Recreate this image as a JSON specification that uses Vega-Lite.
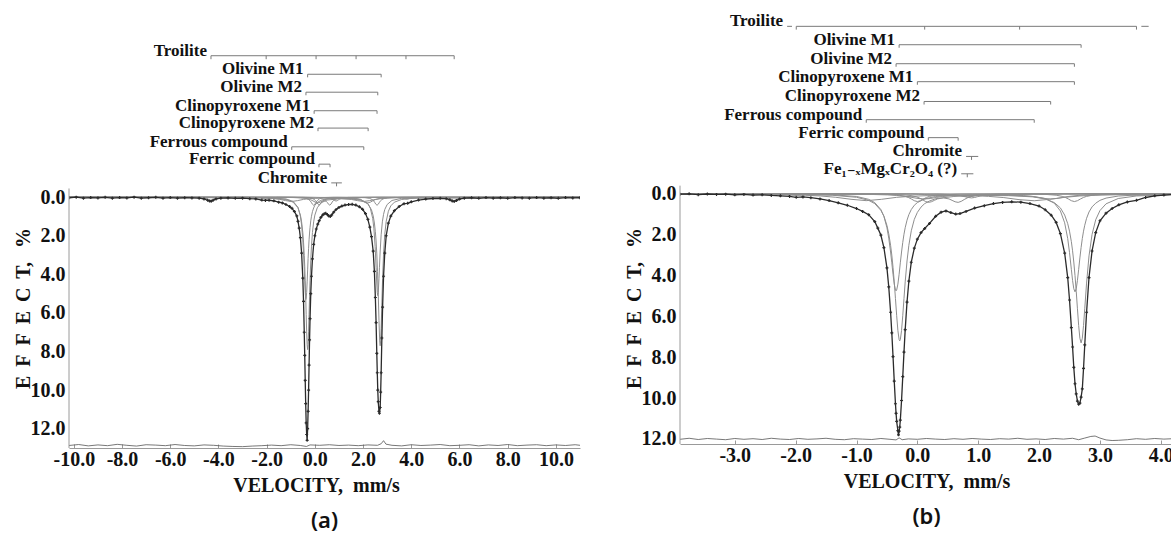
{
  "$schema": "https://vega.github.io/schema/vega-lite/v6.json",
  "background": "white",
  "padding": {"left": 13, "top": 10, "right": 0, "bottom": 0},
  "spacing": 44,
  "config": {
    "view": {"stroke": null},
    "font": "Liberation Serif",
    "axis": {
      "grid": false,
      "labelFont": "Liberation Serif",
      "labelFontSize": 20,
      "labelFontWeight": "bold",
      "labelColor": "#111111",
      "titleFont": "Liberation Serif",
      "titleFontSize": 20,
      "titleFontWeight": "bold",
      "titleColor": "#111111",
      "domainColor": "#9a9a9a",
      "tickColor": "#9a9a9a",
      "labelFlush": false,
      "labelOverlap": false
    }
  },
  "datasets": {
    "a_exp": [
      {"v":-10.2,"e":0.03},{"v":-9.9,"e":0.0},{"v":-9.6,"e":0.05},{"v":-9.3,"e":0.02},{"v":-9.0,"e":0.04},{"v":-8.7,"e":0.01},{"v":-8.4,"e":0.05},{"v":-8.1,"e":0.02},{"v":-7.8,"e":0.04},{"v":-7.5,"e":0.0},{"v":-7.2,"e":0.05},{"v":-6.9,"e":0.03},{"v":-6.6,"e":0.01},{"v":-6.3,"e":0.05},{"v":-6.0,"e":0.02},{"v":-5.7,"e":0.05},{"v":-5.4,"e":0.03},{"v":-5.1,"e":0.04},{"v":-4.8,"e":0.05},{"v":-4.6,"e":0.09},{"v":-4.45,"e":0.16},{"v":-4.37,"e":0.2},{"v":-4.3,"e":0.21},{"v":-4.22,"e":0.16},{"v":-4.1,"e":0.09},{"v":-3.9,"e":0.05},{"v":-3.6,"e":0.04},{"v":-3.3,"e":0.06},{"v":-3.0,"e":0.05},{"v":-2.7,"e":0.08},{"v":-2.45,"e":0.09},{"v":-2.2,"e":0.15},{"v":-2.05,"e":0.17},{"v":-1.9,"e":0.16},{"v":-1.7,"e":0.19},{"v":-1.5,"e":0.26},{"v":-1.35,"e":0.3},{"v":-1.2,"e":0.38},{"v":-1.05,"e":0.48},{"v":-0.95,"e":0.58},{"v":-0.85,"e":0.74},{"v":-0.75,"e":0.97},{"v":-0.7,"e":1.25},{"v":-0.65,"e":1.6},{"v":-0.6,"e":2.1},{"v":-0.55,"e":2.9},{"v":-0.5,"e":4.2},{"v":-0.47,"e":5.4},{"v":-0.44,"e":7.0},{"v":-0.42,"e":8.2},{"v":-0.4,"e":9.5},{"v":-0.38,"e":10.7},{"v":-0.36,"e":11.7},{"v":-0.34,"e":12.3},{"v":-0.32,"e":12.6},{"v":-0.3,"e":12.0},{"v":-0.28,"e":11.1},{"v":-0.26,"e":10.0},{"v":-0.24,"e":8.7},{"v":-0.22,"e":7.4},{"v":-0.2,"e":6.3},{"v":-0.17,"e":5.0},{"v":-0.14,"e":4.1},{"v":-0.1,"e":3.2},{"v":-0.05,"e":2.45},{"v":0.0,"e":2.0},{"v":0.06,"e":1.65},{"v":0.12,"e":1.4},{"v":0.18,"e":1.22},{"v":0.25,"e":1.05},{"v":0.32,"e":0.93},{"v":0.39,"e":0.86},{"v":0.45,"e":0.84},{"v":0.52,"e":0.9},{"v":0.58,"e":0.98},{"v":0.64,"e":1.0},{"v":0.7,"e":0.92},{"v":0.78,"e":0.78},{"v":0.88,"e":0.64},{"v":1.0,"e":0.53},{"v":1.12,"e":0.46},{"v":1.25,"e":0.41},{"v":1.4,"e":0.38},{"v":1.55,"e":0.37},{"v":1.7,"e":0.41},{"v":1.85,"e":0.5},{"v":1.98,"e":0.63},{"v":2.1,"e":0.85},{"v":2.2,"e":1.15},{"v":2.28,"e":1.55},{"v":2.35,"e":2.05},{"v":2.42,"e":2.8},{"v":2.47,"e":3.85},{"v":2.51,"e":5.2},{"v":2.54,"e":6.5},{"v":2.57,"e":8.1},{"v":2.59,"e":9.1},{"v":2.61,"e":10.0},{"v":2.63,"e":10.6},{"v":2.66,"e":11.1},{"v":2.68,"e":11.2},{"v":2.71,"e":10.9},{"v":2.73,"e":10.1},{"v":2.75,"e":9.1},{"v":2.78,"e":7.3},{"v":2.81,"e":5.7},{"v":2.85,"e":4.1},{"v":2.9,"e":2.9},{"v":2.96,"e":2.0},{"v":3.05,"e":1.35},{"v":3.15,"e":0.98},{"v":3.3,"e":0.7},{"v":3.5,"e":0.48},{"v":3.7,"e":0.34},{"v":3.85,"e":0.32},{"v":4.0,"e":0.24},{"v":4.3,"e":0.15},{"v":4.6,"e":0.1},{"v":4.9,"e":0.07},{"v":5.2,"e":0.06},{"v":5.45,"e":0.08},{"v":5.6,"e":0.14},{"v":5.7,"e":0.2},{"v":5.78,"e":0.22},{"v":5.88,"e":0.17},{"v":6.0,"e":0.1},{"v":6.2,"e":0.05},{"v":6.5,"e":0.03},{"v":6.8,"e":0.06},{"v":7.1,"e":0.02},{"v":7.4,"e":0.05},{"v":7.7,"e":0.03},{"v":8.0,"e":0.06},{"v":8.3,"e":0.02},{"v":8.6,"e":0.04},{"v":8.9,"e":0.05},{"v":9.2,"e":0.02},{"v":9.5,"e":0.05},{"v":9.8,"e":0.03},{"v":10.1,"e":0.06},{"v":10.4,"e":0.02},{"v":10.7,"e":0.04},{"v":11.0,"e":0.03}
    ],
    "a_res": [
      {"v":-10.2,"e":12.87},{"v":-9.8,"e":12.82},{"v":-9.4,"e":12.89},{"v":-9.0,"e":12.84},{"v":-8.6,"e":12.88},{"v":-8.2,"e":12.81},{"v":-7.8,"e":12.86},{"v":-7.4,"e":12.9},{"v":-7.0,"e":12.83},{"v":-6.6,"e":12.85},{"v":-6.2,"e":12.88},{"v":-5.8,"e":12.82},{"v":-5.4,"e":12.87},{"v":-5.0,"e":12.89},{"v":-4.6,"e":12.84},{"v":-4.2,"e":12.86},{"v":-3.8,"e":12.9},{"v":-3.4,"e":12.92},{"v":-3.0,"e":12.93},{"v":-2.6,"e":12.9},{"v":-2.2,"e":12.88},{"v":-1.8,"e":12.85},{"v":-1.4,"e":12.88},{"v":-1.0,"e":12.83},{"v":-0.6,"e":12.87},{"v":-0.35,"e":12.92},{"v":-0.2,"e":12.84},{"v":0.2,"e":12.86},{"v":0.6,"e":12.83},{"v":1.0,"e":12.87},{"v":1.4,"e":12.85},{"v":1.8,"e":12.88},{"v":2.2,"e":12.84},{"v":2.6,"e":12.86},{"v":2.75,"e":12.78},{"v":2.85,"e":12.62},{"v":2.95,"e":12.8},{"v":3.2,"e":12.86},{"v":3.6,"e":12.89},{"v":4.0,"e":12.83},{"v":4.4,"e":12.87},{"v":4.8,"e":12.85},{"v":5.2,"e":12.82},{"v":5.6,"e":12.88},{"v":6.0,"e":12.86},{"v":6.4,"e":12.83},{"v":6.8,"e":12.89},{"v":7.2,"e":12.84},{"v":7.6,"e":12.87},{"v":8.0,"e":12.82},{"v":8.4,"e":12.88},{"v":8.8,"e":12.85},{"v":9.2,"e":12.83},{"v":9.6,"e":12.88},{"v":10.0,"e":12.84},{"v":10.4,"e":12.87},{"v":10.8,"e":12.83},{"v":11.0,"e":12.86}
    ],
    "a_comp": [
      {"c":"olm1","v":-10.2,"e":0},{"c":"olm1","v":-2.0,"e":0.04},{"c":"olm1","v":-1.2,"e":0.12},{"c":"olm1","v":-0.9,"e":0.26},{"c":"olm1","v":-0.7,"e":0.55},{"c":"olm1","v":-0.6,"e":0.93},{"c":"olm1","v":-0.55,"e":1.28},{"c":"olm1","v":-0.5,"e":1.83},{"c":"olm1","v":-0.47,"e":2.33},{"c":"olm1","v":-0.44,"e":3.02},{"c":"olm1","v":-0.42,"e":3.61},{"c":"olm1","v":-0.4,"e":4.33},{"c":"olm1","v":-0.38,"e":5.17},{"c":"olm1","v":-0.36,"e":6.09},{"c":"olm1","v":-0.34,"e":6.98},{"c":"olm1","v":-0.32,"e":7.65},{"c":"olm1","v":-0.3,"e":7.9},{"c":"olm1","v":-0.28,"e":7.65},{"c":"olm1","v":-0.26,"e":6.98},{"c":"olm1","v":-0.24,"e":6.09},{"c":"olm1","v":-0.22,"e":5.17},{"c":"olm1","v":-0.2,"e":4.33},{"c":"olm1","v":-0.17,"e":3.3},{"c":"olm1","v":-0.14,"e":2.54},{"c":"olm1","v":-0.1,"e":1.83},{"c":"olm1","v":-0.05,"e":1.28},{"c":"olm1","v":0.0,"e":0.93},{"c":"olm1","v":0.1,"e":0.55},{"c":"olm1","v":0.25,"e":0.3},{"c":"olm1","v":0.5,"e":0.15},{"c":"olm1","v":1.0,"e":0.085},{"c":"olm1","v":1.5,"e":0.09},{"c":"olm1","v":1.9,"e":0.16},{"c":"olm1","v":2.2,"e":0.34},{"c":"olm1","v":2.35,"e":0.66},{"c":"olm1","v":2.42,"e":0.97},{"c":"olm1","v":2.47,"e":1.34},{"c":"olm1","v":2.51,"e":1.79},{"c":"olm1","v":2.54,"e":2.27},{"c":"olm1","v":2.57,"e":2.94},{"c":"olm1","v":2.6,"e":3.85},{"c":"olm1","v":2.63,"e":5.04},{"c":"olm1","v":2.66,"e":6.38},{"c":"olm1","v":2.69,"e":7.45},{"c":"olm1","v":2.71,"e":7.7},{"c":"olm1","v":2.73,"e":7.45},{"c":"olm1","v":2.75,"e":6.8},{"c":"olm1","v":2.78,"e":5.48},{"c":"olm1","v":2.81,"e":4.22},{"c":"olm1","v":2.85,"e":2.94},{"c":"olm1","v":2.9,"e":1.93},{"c":"olm1","v":2.96,"e":1.25},{"c":"olm1","v":3.05,"e":0.73},{"c":"olm1","v":3.15,"e":0.45},{"c":"olm1","v":3.3,"e":0.26},{"c":"olm1","v":3.6,"e":0.12},{"c":"olm1","v":4.2,"e":0.04},{"c":"olm1","v":11.0,"e":0},
      {"c":"olm2","v":-10.2,"e":0},{"c":"olm2","v":-2.0,"e":0.024},{"c":"olm2","v":-1.2,"e":0.09},{"c":"olm2","v":-0.9,"e":0.22},{"c":"olm2","v":-0.7,"e":0.53},{"c":"olm2","v":-0.6,"e":0.99},{"c":"olm2","v":-0.55,"e":1.44},{"c":"olm2","v":-0.5,"e":2.21},{"c":"olm2","v":-0.47,"e":2.9},{"c":"olm2","v":-0.44,"e":3.77},{"c":"olm2","v":-0.42,"e":4.39},{"c":"olm2","v":-0.4,"e":4.93},{"c":"olm2","v":-0.38,"e":5.26},{"c":"olm2","v":-0.37,"e":5.3},{"c":"olm2","v":-0.36,"e":5.26},{"c":"olm2","v":-0.34,"e":4.93},{"c":"olm2","v":-0.32,"e":4.39},{"c":"olm2","v":-0.3,"e":3.77},{"c":"olm2","v":-0.28,"e":3.18},{"c":"olm2","v":-0.26,"e":2.65},{"c":"olm2","v":-0.24,"e":2.21},{"c":"olm2","v":-0.22,"e":1.86},{"c":"olm2","v":-0.2,"e":1.57},{"c":"olm2","v":-0.17,"e":1.23},{"c":"olm2","v":-0.14,"e":0.99},{"c":"olm2","v":-0.1,"e":0.75},{"c":"olm2","v":-0.05,"e":0.56},{"c":"olm2","v":0.0,"e":0.42},{"c":"olm2","v":0.1,"e":0.28},{"c":"olm2","v":0.25,"e":0.16},{"c":"olm2","v":0.5,"e":0.08},{"c":"olm2","v":1.0,"e":0.06},{"c":"olm2","v":1.5,"e":0.07},{"c":"olm2","v":1.9,"e":0.12},{"c":"olm2","v":2.2,"e":0.34},{"c":"olm2","v":2.3,"e":0.57},{"c":"olm2","v":2.4,"e":1.1},{"c":"olm2","v":2.45,"e":1.64},{"c":"olm2","v":2.5,"e":2.55},{"c":"olm2","v":2.54,"e":3.63},{"c":"olm2","v":2.57,"e":4.5},{"c":"olm2","v":2.59,"e":4.94},{"c":"olm2","v":2.61,"e":5.1},{"c":"olm2","v":2.63,"e":4.94},{"c":"olm2","v":2.66,"e":4.23},{"c":"olm2","v":2.68,"e":3.63},{"c":"olm2","v":2.71,"e":2.79},{"c":"olm2","v":2.75,"e":1.95},{"c":"olm2","v":2.8,"e":1.28},{"c":"olm2","v":2.85,"e":0.89},{"c":"olm2","v":2.9,"e":0.64},{"c":"olm2","v":3.0,"e":0.38},{"c":"olm2","v":3.2,"e":0.17},{"c":"olm2","v":3.6,"e":0.06},{"c":"olm2","v":11.0,"e":0},
      {"c":"cpx1","v":-10.2,"e":0},{"c":"cpx1","v":-1.5,"e":0.004},{"c":"cpx1","v":-1.05,"e":0.007},{"c":"cpx1","v":-0.85,"e":0.011},{"c":"cpx1","v":-0.55,"e":0.026},{"c":"cpx1","v":-0.45,"e":0.04},{"c":"cpx1","v":-0.35,"e":0.066},{"c":"cpx1","v":-0.25,"e":0.125},{"c":"cpx1","v":-0.2,"e":0.18},{"c":"cpx1","v":-0.15,"e":0.264},{"c":"cpx1","v":-0.1,"e":0.366},{"c":"cpx1","v":-0.05,"e":0.42},{"c":"cpx1","v":0.0,"e":0.366},{"c":"cpx1","v":0.05,"e":0.264},{"c":"cpx1","v":0.1,"e":0.18},{"c":"cpx1","v":0.2,"e":0.079},{"c":"cpx1","v":0.35,"e":0.04},{"c":"cpx1","v":0.6,"e":0.016},{"c":"cpx1","v":1.0,"e":0.008},{"c":"cpx1","v":1.6,"e":0.008},{"c":"cpx1","v":2.08,"e":0.026},{"c":"cpx1","v":2.28,"e":0.066},{"c":"cpx1","v":2.38,"e":0.125},{"c":"cpx1","v":2.43,"e":0.18},{"c":"cpx1","v":2.48,"e":0.264},{"c":"cpx1","v":2.53,"e":0.366},{"c":"cpx1","v":2.58,"e":0.42},{"c":"cpx1","v":2.63,"e":0.366},{"c":"cpx1","v":2.68,"e":0.264},{"c":"cpx1","v":2.73,"e":0.18},{"c":"cpx1","v":2.78,"e":0.125},{"c":"cpx1","v":2.88,"e":0.066},{"c":"cpx1","v":3.08,"e":0.026},{"c":"cpx1","v":3.6,"e":0.007},{"c":"cpx1","v":11.0,"e":0},
      {"c":"cpx2","v":-10.2,"e":0},{"c":"cpx2","v":-1.9,"e":0.005},{"c":"cpx2","v":-1.4,"e":0.01},{"c":"cpx2","v":-0.9,"e":0.02},{"c":"cpx2","v":-0.6,"e":0.04},{"c":"cpx2","v":-0.38,"e":0.06},{"c":"cpx2","v":-0.18,"e":0.13},{"c":"cpx2","v":-0.08,"e":0.19},{"c":"cpx2","v":0.02,"e":0.26},{"c":"cpx2","v":0.12,"e":0.3},{"c":"cpx2","v":0.22,"e":0.26},{"c":"cpx2","v":0.32,"e":0.19},{"c":"cpx2","v":0.42,"e":0.13},{"c":"cpx2","v":0.62,"e":0.07},{"c":"cpx2","v":0.82,"e":0.04},{"c":"cpx2","v":1.12,"e":0.03},{"c":"cpx2","v":1.4,"e":0.04},{"c":"cpx2","v":1.7,"e":0.07},{"c":"cpx2","v":1.9,"e":0.13},{"c":"cpx2","v":2.0,"e":0.19},{"c":"cpx2","v":2.1,"e":0.26},{"c":"cpx2","v":2.2,"e":0.3},{"c":"cpx2","v":2.3,"e":0.26},{"c":"cpx2","v":2.4,"e":0.19},{"c":"cpx2","v":2.5,"e":0.13},{"c":"cpx2","v":2.7,"e":0.06},{"c":"cpx2","v":2.9,"e":0.034},{"c":"cpx2","v":3.2,"e":0.018},{"c":"cpx2","v":3.7,"e":0.008},{"c":"cpx2","v":4.7,"e":0.003},{"c":"cpx2","v":11.0,"e":0},
      {"c":"ferrous","v":-10.2,"e":0},{"c":"ferrous","v":-5.0,"e":0.004},{"c":"ferrous","v":-3.97,"e":0.006},{"c":"ferrous","v":-2.97,"e":0.013},{"c":"ferrous","v":-2.47,"e":0.022},{"c":"ferrous","v":-1.97,"e":0.044},{"c":"ferrous","v":-1.72,"e":0.068},{"c":"ferrous","v":-1.47,"e":0.11},{"c":"ferrous","v":-1.22,"e":0.176},{"c":"ferrous","v":-0.97,"e":0.226},{"c":"ferrous","v":-0.72,"e":0.18},{"c":"ferrous","v":-0.47,"e":0.115},{"c":"ferrous","v":-0.22,"e":0.075},{"c":"ferrous","v":0.03,"e":0.055},{"c":"ferrous","v":0.5,"e":0.045},{"c":"ferrous","v":1.02,"e":0.058},{"c":"ferrous","v":1.52,"e":0.12},{"c":"ferrous","v":1.77,"e":0.18},{"c":"ferrous","v":2.02,"e":0.225},{"c":"ferrous","v":2.27,"e":0.18},{"c":"ferrous","v":2.52,"e":0.115},{"c":"ferrous","v":2.77,"e":0.072},{"c":"ferrous","v":3.02,"e":0.048},{"c":"ferrous","v":3.52,"e":0.024},{"c":"ferrous","v":4.02,"e":0.014},{"c":"ferrous","v":5.0,"e":0.006},{"c":"ferrous","v":11.0,"e":0},
      {"c":"ferric","v":-10.2,"e":0},{"c":"ferric","v":-1.0,"e":0.007},{"c":"ferric","v":-0.43,"e":0.016},{"c":"ferric","v":-0.28,"e":0.029},{"c":"ferric","v":-0.13,"e":0.06},{"c":"ferric","v":-0.03,"e":0.113},{"c":"ferric","v":0.02,"e":0.167},{"c":"ferric","v":0.07,"e":0.247},{"c":"ferric","v":0.12,"e":0.353},{"c":"ferric","v":0.17,"e":0.413},{"c":"ferric","v":0.22,"e":0.373},{"c":"ferric","v":0.27,"e":0.28},{"c":"ferric","v":0.32,"e":0.213},{"c":"ferric","v":0.395,"e":0.178},{"c":"ferric","v":0.47,"e":0.213},{"c":"ferric","v":0.52,"e":0.28},{"c":"ferric","v":0.57,"e":0.373},{"c":"ferric","v":0.62,"e":0.413},{"c":"ferric","v":0.67,"e":0.36},{"c":"ferric","v":0.72,"e":0.253},{"c":"ferric","v":0.77,"e":0.173},{"c":"ferric","v":0.82,"e":0.12},{"c":"ferric","v":0.92,"e":0.067},{"c":"ferric","v":1.07,"e":0.033},{"c":"ferric","v":1.4,"e":0.013},{"c":"ferric","v":2.5,"e":0.003},{"c":"ferric","v":11.0,"e":0},
      {"c":"chromite","v":-10.2,"e":0},{"c":"chromite","v":-1.12,"e":0.001},{"c":"chromite","v":-0.12,"e":0.004},{"c":"chromite","v":0.38,"e":0.017},{"c":"chromite","v":0.58,"e":0.04},{"c":"chromite","v":0.68,"e":0.072},{"c":"chromite","v":0.73,"e":0.1},{"c":"chromite","v":0.78,"e":0.138},{"c":"chromite","v":0.83,"e":0.18},{"c":"chromite","v":0.88,"e":0.2},{"c":"chromite","v":0.93,"e":0.18},{"c":"chromite","v":0.98,"e":0.138},{"c":"chromite","v":1.03,"e":0.1},{"c":"chromite","v":1.08,"e":0.072},{"c":"chromite","v":1.18,"e":0.04},{"c":"chromite","v":1.38,"e":0.017},{"c":"chromite","v":1.88,"e":0.004},{"c":"chromite","v":11.0,"e":0},
      {"c":"troilite","v":-10.2,"e":0},{"c":"troilite","v":-5.2,"e":0.01},{"c":"troilite","v":-4.72,"e":0.024},{"c":"troilite","v":-4.52,"e":0.061},{"c":"troilite","v":-4.42,"e":0.118},{"c":"troilite","v":-4.37,"e":0.153},{"c":"troilite","v":-4.32,"e":0.17},{"c":"troilite","v":-4.27,"e":0.153},{"c":"troilite","v":-4.22,"e":0.118},{"c":"troilite","v":-4.12,"e":0.061},{"c":"troilite","v":-3.92,"e":0.024},{"c":"troilite","v":-3.3,"e":0.008},{"c":"troilite","v":-2.53,"e":0.01},{"c":"troilite","v":-2.23,"e":0.036},{"c":"troilite","v":-2.13,"e":0.069},{"c":"troilite","v":-2.08,"e":0.09},{"c":"troilite","v":-2.03,"e":0.1},{"c":"troilite","v":-1.98,"e":0.09},{"c":"troilite","v":-1.93,"e":0.069},{"c":"troilite","v":-1.83,"e":0.036},{"c":"troilite","v":-1.53,"e":0.01},{"c":"troilite","v":-0.5,"e":0.005},{"c":"troilite","v":-0.16,"e":0.018},{"c":"troilite","v":-0.06,"e":0.035},{"c":"troilite","v":0.04,"e":0.05},{"c":"troilite","v":0.14,"e":0.035},{"c":"troilite","v":0.24,"e":0.018},{"c":"troilite","v":0.8,"e":0.004},{"c":"troilite","v":1.54,"e":0.018},{"c":"troilite","v":1.64,"e":0.035},{"c":"troilite","v":1.74,"e":0.05},{"c":"troilite","v":1.84,"e":0.035},{"c":"troilite","v":1.94,"e":0.018},{"c":"troilite","v":2.8,"e":0.006},{"c":"troilite","v":3.32,"e":0.009},{"c":"troilite","v":3.62,"e":0.036},{"c":"troilite","v":3.72,"e":0.069},{"c":"troilite","v":3.77,"e":0.09},{"c":"troilite","v":3.82,"e":0.1},{"c":"troilite","v":3.87,"e":0.09},{"c":"troilite","v":3.92,"e":0.069},{"c":"troilite","v":4.02,"e":0.036},{"c":"troilite","v":4.32,"e":0.01},{"c":"troilite","v":5.07,"e":0.012},{"c":"troilite","v":5.37,"e":0.024},{"c":"troilite","v":5.57,"e":0.061},{"c":"troilite","v":5.67,"e":0.118},{"c":"troilite","v":5.72,"e":0.153},{"c":"troilite","v":5.77,"e":0.17},{"c":"troilite","v":5.82,"e":0.153},{"c":"troilite","v":5.87,"e":0.118},{"c":"troilite","v":5.97,"e":0.061},{"c":"troilite","v":6.17,"e":0.024},{"c":"troilite","v":6.7,"e":0.008},{"c":"troilite","v":11.0,"e":0}
    ],
    "a_lab": [
      {"lab":"Troilite","v":-4.31,"e":-7.33},
      {"lab":"Olivine M1","v":-0.3,"e":-6.37},
      {"lab":"Olivine M2","v":-0.37,"e":-5.44},
      {"lab":"Clinopyroxene M1","v":-0.03,"e":-4.48},
      {"lab":"Clinopyroxene M2","v":0.13,"e":-3.58},
      {"lab":"Ferrous compound","v":-0.96,"e":-2.61},
      {"lab":"Ferric compound","v":0.17,"e":-1.71},
      {"lab":"Chromite","v":0.68,"e":-0.74}
    ],
    "a_seg": [
      {"v":-4.31,"v2":5.78,"e":-7.33},
      {"v":-0.3,"v2":2.75,"e":-6.37},
      {"v":-0.37,"v2":2.61,"e":-5.44},
      {"v":-0.03,"v2":2.58,"e":-4.48},
      {"v":0.13,"v2":2.21,"e":-3.58},
      {"v":-0.96,"v2":2.03,"e":-2.61},
      {"v":0.17,"v2":0.63,"e":-1.71},
      {"v":0.68,"v2":1.12,"e":-0.74}
    ],
    "a_tk": [
      {"v":-4.31,"e":-7.33,"e2":-7.15},{"v":-2.02,"e":-7.33,"e2":-7.15},{"v":0.05,"e":-7.33,"e2":-7.15},{"v":1.71,"e":-7.33,"e2":-7.15},{"v":3.78,"e":-7.33,"e2":-7.15},{"v":5.78,"e":-7.33,"e2":-7.15},
      {"v":-0.3,"e":-6.37,"e2":-6.21},{"v":2.75,"e":-6.37,"e2":-6.21},
      {"v":-0.37,"e":-5.44,"e2":-5.28},{"v":2.61,"e":-5.44,"e2":-5.28},
      {"v":-0.03,"e":-4.48,"e2":-4.32},{"v":2.58,"e":-4.48,"e2":-4.32},
      {"v":0.13,"e":-3.58,"e2":-3.42},{"v":2.21,"e":-3.58,"e2":-3.42},
      {"v":-0.96,"e":-2.61,"e2":-2.45},{"v":2.03,"e":-2.61,"e2":-2.45},
      {"v":0.17,"e":-1.71,"e2":-1.55},{"v":0.63,"e":-1.71,"e2":-1.55},
      {"v":0.9,"e":-0.74,"e2":-0.56}
    ],
    "b_exp": [
      {"v":-3.9,"e":0.02},{"v":-3.75,"e":0.0},{"v":-3.6,"e":0.04},{"v":-3.45,"e":0.01},{"v":-3.3,"e":0.03},{"v":-3.15,"e":0.02},{"v":-3.0,"e":0.05},{"v":-2.85,"e":0.03},{"v":-2.7,"e":0.06},{"v":-2.55,"e":0.05},{"v":-2.4,"e":0.08},{"v":-2.25,"e":0.1},{"v":-2.1,"e":0.13},{"v":-1.99,"e":0.17},{"v":-1.88,"e":0.15},{"v":-1.75,"e":0.19},{"v":-1.6,"e":0.25},{"v":-1.45,"e":0.33},{"v":-1.3,"e":0.44},{"v":-1.15,"e":0.56},{"v":-1.0,"e":0.72},{"v":-0.9,"e":0.86},{"v":-0.8,"e":1.02},{"v":-0.7,"e":1.36},{"v":-0.65,"e":1.68},{"v":-0.6,"e":2.02},{"v":-0.55,"e":2.63},{"v":-0.5,"e":3.63},{"v":-0.47,"e":4.56},{"v":-0.44,"e":5.8},{"v":-0.42,"e":6.81},{"v":-0.4,"e":7.97},{"v":-0.38,"e":9.17},{"v":-0.36,"e":10.28},{"v":-0.35,"e":10.75},{"v":-0.34,"e":11.14},{"v":-0.32,"e":11.6},{"v":-0.31,"e":11.8},{"v":-0.3,"e":11.62},{"v":-0.29,"e":11.42},{"v":-0.28,"e":11.08},{"v":-0.26,"e":10.12},{"v":-0.24,"e":8.95},{"v":-0.22,"e":7.75},{"v":-0.2,"e":6.65},{"v":-0.17,"e":5.3},{"v":-0.14,"e":4.28},{"v":-0.1,"e":3.35},{"v":-0.05,"e":2.66},{"v":0.0,"e":2.22},{"v":0.06,"e":1.9},{"v":0.12,"e":1.7},{"v":0.2,"e":1.45},{"v":0.3,"e":1.1},{"v":0.39,"e":0.9},{"v":0.47,"e":0.84},{"v":0.55,"e":0.92},{"v":0.63,"e":0.99},{"v":0.7,"e":0.97},{"v":0.8,"e":0.86},{"v":0.94,"e":0.7},{"v":1.1,"e":0.58},{"v":1.25,"e":0.48},{"v":1.4,"e":0.42},{"v":1.55,"e":0.39},{"v":1.7,"e":0.41},{"v":1.85,"e":0.48},{"v":2.0,"e":0.6},{"v":2.1,"e":0.78},{"v":2.2,"e":1.05},{"v":2.28,"e":1.4},{"v":2.35,"e":1.95},{"v":2.42,"e":2.9},{"v":2.47,"e":4.1},{"v":2.5,"e":5.2},{"v":2.53,"e":6.55},{"v":2.55,"e":7.5},{"v":2.57,"e":8.5},{"v":2.59,"e":9.3},{"v":2.61,"e":9.8},{"v":2.63,"e":10.15},{"v":2.65,"e":10.3},{"v":2.67,"e":10.25},{"v":2.69,"e":9.95},{"v":2.71,"e":9.55},{"v":2.73,"e":8.55},{"v":2.75,"e":7.4},{"v":2.78,"e":5.8},{"v":2.82,"e":4.1},{"v":2.87,"e":2.8},{"v":2.93,"e":1.9},{"v":3.0,"e":1.32},{"v":3.1,"e":0.95},{"v":3.2,"e":0.72},{"v":3.31,"e":0.54},{"v":3.45,"e":0.4},{"v":3.6,"e":0.32},{"v":3.75,"e":0.18},{"v":3.9,"e":0.1},{"v":4.05,"e":0.06},{"v":4.2,"e":0.04}
    ],
    "b_res": [
      {"v":-3.9,"e":12.02},{"v":-3.75,"e":11.97},{"v":-3.6,"e":12.03},{"v":-3.45,"e":11.98},{"v":-3.3,"e":12.01},{"v":-3.15,"e":12.04},{"v":-3.0,"e":11.98},{"v":-2.85,"e":12.02},{"v":-2.7,"e":11.99},{"v":-2.55,"e":12.03},{"v":-2.4,"e":11.97},{"v":-2.25,"e":12.01},{"v":-2.1,"e":12.03},{"v":-1.95,"e":11.98},{"v":-1.8,"e":12.02},{"v":-1.65,"e":12.0},{"v":-1.5,"e":11.97},{"v":-1.35,"e":12.02},{"v":-1.2,"e":12.04},{"v":-1.05,"e":11.99},{"v":-0.9,"e":12.01},{"v":-0.75,"e":12.03},{"v":-0.6,"e":11.98},{"v":-0.45,"e":12.02},{"v":-0.35,"e":12.05},{"v":-0.3,"e":11.95},{"v":-0.25,"e":12.04},{"v":-0.15,"e":12.0},{"v":0.0,"e":12.02},{"v":0.15,"e":11.98},{"v":0.3,"e":12.01},{"v":0.45,"e":12.03},{"v":0.6,"e":11.99},{"v":0.75,"e":12.02},{"v":0.9,"e":11.98},{"v":1.05,"e":12.01},{"v":1.2,"e":12.03},{"v":1.35,"e":11.99},{"v":1.5,"e":12.01},{"v":1.65,"e":11.97},{"v":1.8,"e":12.02},{"v":1.95,"e":12.0},{"v":2.1,"e":12.03},{"v":2.25,"e":11.98},{"v":2.4,"e":12.01},{"v":2.55,"e":11.97},{"v":2.65,"e":12.04},{"v":2.75,"e":11.96},{"v":2.85,"e":11.88},{"v":2.92,"e":11.86},{"v":3.0,"e":11.96},{"v":3.1,"e":12.05},{"v":3.2,"e":12.08},{"v":3.3,"e":12.07},{"v":3.45,"e":12.04},{"v":3.6,"e":11.99},{"v":3.75,"e":12.02},{"v":3.9,"e":11.98},{"v":4.05,"e":12.01},{"v":4.2,"e":11.99}
    ],
    "b_comp": [
      {"c":"olm2","v":-3.9,"e":0},{"c":"olm2","v":-2.0,"e":0.02},{"c":"olm2","v":-1.4,"e":0.05},{"c":"olm2","v":-1.0,"e":0.13},{"c":"olm2","v":-0.8,"e":0.27},{"c":"olm2","v":-0.7,"e":0.43},{"c":"olm2","v":-0.6,"e":0.77},{"c":"olm2","v":-0.55,"e":1.1},{"c":"olm2","v":-0.5,"e":1.66},{"c":"olm2","v":-0.47,"e":2.17},{"c":"olm2","v":-0.44,"e":2.85},{"c":"olm2","v":-0.42,"e":3.38},{"c":"olm2","v":-0.4,"e":3.94},{"c":"olm2","v":-0.38,"e":4.42},{"c":"olm2","v":-0.36,"e":4.71},{"c":"olm2","v":-0.35,"e":4.75},{"c":"olm2","v":-0.34,"e":4.71},{"c":"olm2","v":-0.32,"e":4.42},{"c":"olm2","v":-0.3,"e":3.94},{"c":"olm2","v":-0.28,"e":3.38},{"c":"olm2","v":-0.26,"e":2.85},{"c":"olm2","v":-0.24,"e":2.38},{"c":"olm2","v":-0.22,"e":1.98},{"c":"olm2","v":-0.2,"e":1.66},{"c":"olm2","v":-0.17,"e":1.29},{"c":"olm2","v":-0.14,"e":1.02},{"c":"olm2","v":-0.1,"e":0.77},{"c":"olm2","v":-0.05,"e":0.56},{"c":"olm2","v":0.0,"e":0.43},{"c":"olm2","v":0.12,"e":0.25},{"c":"olm2","v":0.3,"e":0.13},{"c":"olm2","v":0.6,"e":0.075},{"c":"olm2","v":1.0,"e":0.056},{"c":"olm2","v":1.5,"e":0.07},{"c":"olm2","v":1.9,"e":0.13},{"c":"olm2","v":2.1,"e":0.23},{"c":"olm2","v":2.25,"e":0.46},{"c":"olm2","v":2.35,"e":0.84},{"c":"olm2","v":2.42,"e":1.42},{"c":"olm2","v":2.47,"e":2.19},{"c":"olm2","v":2.5,"e":2.88},{"c":"olm2","v":2.53,"e":3.7},{"c":"olm2","v":2.55,"e":4.24},{"c":"olm2","v":2.57,"e":4.65},{"c":"olm2","v":2.59,"e":4.8},{"c":"olm2","v":2.61,"e":4.65},{"c":"olm2","v":2.63,"e":4.24},{"c":"olm2","v":2.65,"e":3.7},{"c":"olm2","v":2.67,"e":3.14},{"c":"olm2","v":2.69,"e":2.63},{"c":"olm2","v":2.71,"e":2.19},{"c":"olm2","v":2.73,"e":1.83},{"c":"olm2","v":2.75,"e":1.54},{"c":"olm2","v":2.78,"e":1.2},{"c":"olm2","v":2.82,"e":0.89},{"c":"olm2","v":2.87,"e":0.64},{"c":"olm2","v":2.93,"e":0.46},{"c":"olm2","v":3.0,"e":0.32},{"c":"olm2","v":3.1,"e":0.21},{"c":"olm2","v":3.3,"e":0.11},{"c":"olm2","v":3.6,"e":0.056},{"c":"olm2","v":4.2,"e":0.02},
      {"c":"olm1","v":-3.9,"e":0},{"c":"olm1","v":-2.0,"e":0.03},{"c":"olm1","v":-1.4,"e":0.07},{"c":"olm1","v":-1.0,"e":0.17},{"c":"olm1","v":-0.8,"e":0.32},{"c":"olm1","v":-0.7,"e":0.48},{"c":"olm1","v":-0.6,"e":0.81},{"c":"olm1","v":-0.55,"e":1.09},{"c":"olm1","v":-0.5,"e":1.55},{"c":"olm1","v":-0.47,"e":1.96},{"c":"olm1","v":-0.44,"e":2.52},{"c":"olm1","v":-0.42,"e":3.0},{"c":"olm1","v":-0.4,"e":3.6},{"c":"olm1","v":-0.38,"e":4.31},{"c":"olm1","v":-0.36,"e":5.13},{"c":"olm1","v":-0.34,"e":5.97},{"c":"olm1","v":-0.32,"e":6.7},{"c":"olm1","v":-0.3,"e":7.14},{"c":"olm1","v":-0.29,"e":7.2},{"c":"olm1","v":-0.28,"e":7.14},{"c":"olm1","v":-0.26,"e":6.7},{"c":"olm1","v":-0.24,"e":5.97},{"c":"olm1","v":-0.22,"e":5.13},{"c":"olm1","v":-0.2,"e":4.31},{"c":"olm1","v":-0.17,"e":3.29},{"c":"olm1","v":-0.14,"e":2.52},{"c":"olm1","v":-0.1,"e":1.81},{"c":"olm1","v":-0.05,"e":1.25},{"c":"olm1","v":0.0,"e":0.91},{"c":"olm1","v":0.06,"e":0.65},{"c":"olm1","v":0.12,"e":0.48},{"c":"olm1","v":0.2,"e":0.35},{"c":"olm1","v":0.3,"e":0.24},{"c":"olm1","v":0.6,"e":0.13},{"c":"olm1","v":1.0,"e":0.08},{"c":"olm1","v":1.5,"e":0.09},{"c":"olm1","v":1.9,"e":0.15},{"c":"olm1","v":2.1,"e":0.25},{"c":"olm1","v":2.25,"e":0.43},{"c":"olm1","v":2.35,"e":0.69},{"c":"olm1","v":2.42,"e":1.04},{"c":"olm1","v":2.47,"e":1.46},{"c":"olm1","v":2.5,"e":1.83},{"c":"olm1","v":2.53,"e":2.34},{"c":"olm1","v":2.55,"e":2.79},{"c":"olm1","v":2.57,"e":3.34},{"c":"olm1","v":2.59,"e":4.0},{"c":"olm1","v":2.61,"e":4.77},{"c":"olm1","v":2.63,"e":5.63},{"c":"olm1","v":2.65,"e":6.45},{"c":"olm1","v":2.67,"e":7.07},{"c":"olm1","v":2.69,"e":7.3},{"c":"olm1","v":2.71,"e":7.07},{"c":"olm1","v":2.73,"e":6.45},{"c":"olm1","v":2.75,"e":5.63},{"c":"olm1","v":2.78,"e":4.37},{"c":"olm1","v":2.82,"e":3.04},{"c":"olm1","v":2.87,"e":1.99},{"c":"olm1","v":2.93,"e":1.27},{"c":"olm1","v":3.0,"e":0.82},{"c":"olm1","v":3.1,"e":0.49},{"c":"olm1","v":3.3,"e":0.23},{"c":"olm1","v":3.6,"e":0.105},{"c":"olm1","v":4.2,"e":0.04},
      {"c":"cpx1","v":-3.9,"e":0},{"c":"cpx1","v":-1.5,"e":0.005},{"c":"cpx1","v":-1.0,"e":0.008},{"c":"cpx1","v":-0.7,"e":0.014},{"c":"cpx1","v":-0.45,"e":0.034},{"c":"cpx1","v":-0.3,"e":0.068},{"c":"cpx1","v":-0.2,"e":0.125},{"c":"cpx1","v":-0.15,"e":0.177},{"c":"cpx1","v":-0.1,"e":0.252},{"c":"cpx1","v":-0.05,"e":0.337},{"c":"cpx1","v":0.0,"e":0.38},{"c":"cpx1","v":0.05,"e":0.337},{"c":"cpx1","v":0.1,"e":0.252},{"c":"cpx1","v":0.15,"e":0.177},{"c":"cpx1","v":0.2,"e":0.125},{"c":"cpx1","v":0.3,"e":0.068},{"c":"cpx1","v":0.45,"e":0.034},{"c":"cpx1","v":0.7,"e":0.014},{"c":"cpx1","v":1.2,"e":0.007},{"c":"cpx1","v":1.88,"e":0.014},{"c":"cpx1","v":2.13,"e":0.034},{"c":"cpx1","v":2.28,"e":0.068},{"c":"cpx1","v":2.38,"e":0.125},{"c":"cpx1","v":2.43,"e":0.177},{"c":"cpx1","v":2.48,"e":0.252},{"c":"cpx1","v":2.53,"e":0.337},{"c":"cpx1","v":2.58,"e":0.38},{"c":"cpx1","v":2.63,"e":0.337},{"c":"cpx1","v":2.68,"e":0.252},{"c":"cpx1","v":2.73,"e":0.177},{"c":"cpx1","v":2.78,"e":0.125},{"c":"cpx1","v":2.88,"e":0.068},{"c":"cpx1","v":3.03,"e":0.034},{"c":"cpx1","v":3.28,"e":0.014},{"c":"cpx1","v":3.78,"e":0.007},{"c":"cpx1","v":4.2,"e":0.004},
      {"c":"cpx2","v":-3.9,"e":0.002},{"c":"cpx2","v":-2.5,"e":0.005},{"c":"cpx2","v":-1.9,"e":0.008},{"c":"cpx2","v":-1.5,"e":0.012},{"c":"cpx2","v":-1.09,"e":0.018},{"c":"cpx2","v":-0.79,"e":0.028},{"c":"cpx2","v":-0.49,"e":0.053},{"c":"cpx2","v":-0.34,"e":0.08},{"c":"cpx2","v":-0.19,"e":0.13},{"c":"cpx2","v":-0.09,"e":0.177},{"c":"cpx2","v":0.01,"e":0.228},{"c":"cpx2","v":0.11,"e":0.253},{"c":"cpx2","v":0.21,"e":0.23},{"c":"cpx2","v":0.31,"e":0.18},{"c":"cpx2","v":0.41,"e":0.135},{"c":"cpx2","v":0.56,"e":0.085},{"c":"cpx2","v":0.71,"e":0.06},{"c":"cpx2","v":1.01,"e":0.04},{"c":"cpx2","v":1.3,"e":0.04},{"c":"cpx2","v":1.59,"e":0.065},{"c":"cpx2","v":1.74,"e":0.086},{"c":"cpx2","v":1.89,"e":0.13},{"c":"cpx2","v":1.99,"e":0.178},{"c":"cpx2","v":2.09,"e":0.228},{"c":"cpx2","v":2.19,"e":0.253},{"c":"cpx2","v":2.29,"e":0.228},{"c":"cpx2","v":2.39,"e":0.175},{"c":"cpx2","v":2.49,"e":0.127},{"c":"cpx2","v":2.64,"e":0.08},{"c":"cpx2","v":2.79,"e":0.052},{"c":"cpx2","v":3.09,"e":0.027},{"c":"cpx2","v":3.39,"e":0.016},{"c":"cpx2","v":3.79,"e":0.009},{"c":"cpx2","v":4.2,"e":0.006},
      {"c":"ferrous","v":-3.9,"e":0.011},{"c":"ferrous","v":-3.34,"e":0.015},{"c":"ferrous","v":-2.84,"e":0.022},{"c":"ferrous","v":-2.34,"e":0.037},{"c":"ferrous","v":-1.84,"e":0.07},{"c":"ferrous","v":-1.59,"e":0.106},{"c":"ferrous","v":-1.34,"e":0.17},{"c":"ferrous","v":-1.09,"e":0.268},{"c":"ferrous","v":-0.84,"e":0.335},{"c":"ferrous","v":-0.59,"e":0.27},{"c":"ferrous","v":-0.34,"e":0.172},{"c":"ferrous","v":-0.09,"e":0.12},{"c":"ferrous","v":0.16,"e":0.09},{"c":"ferrous","v":0.54,"e":0.078},{"c":"ferrous","v":0.92,"e":0.09},{"c":"ferrous","v":1.17,"e":0.125},{"c":"ferrous","v":1.42,"e":0.185},{"c":"ferrous","v":1.67,"e":0.285},{"c":"ferrous","v":1.92,"e":0.34},{"c":"ferrous","v":2.17,"e":0.27},{"c":"ferrous","v":2.42,"e":0.172},{"c":"ferrous","v":2.67,"e":0.105},{"c":"ferrous","v":2.92,"e":0.072},{"c":"ferrous","v":3.42,"e":0.037},{"c":"ferrous","v":3.92,"e":0.022},{"c":"ferrous","v":4.2,"e":0.018},
      {"c":"ferric","v":-3.9,"e":0},{"c":"ferric","v":-1.5,"e":0.003},{"c":"ferric","v":-0.82,"e":0.011},{"c":"ferric","v":-0.52,"e":0.021},{"c":"ferric","v":-0.27,"e":0.042},{"c":"ferric","v":-0.12,"e":0.08},{"c":"ferric","v":-0.02,"e":0.143},{"c":"ferric","v":0.03,"e":0.2},{"c":"ferric","v":0.08,"e":0.28},{"c":"ferric","v":0.13,"e":0.37},{"c":"ferric","v":0.18,"e":0.42},{"c":"ferric","v":0.23,"e":0.39},{"c":"ferric","v":0.28,"e":0.32},{"c":"ferric","v":0.33,"e":0.25},{"c":"ferric","v":0.425,"e":0.2},{"c":"ferric","v":0.52,"e":0.25},{"c":"ferric","v":0.57,"e":0.32},{"c":"ferric","v":0.62,"e":0.39},{"c":"ferric","v":0.67,"e":0.42},{"c":"ferric","v":0.72,"e":0.37},{"c":"ferric","v":0.77,"e":0.28},{"c":"ferric","v":0.82,"e":0.2},{"c":"ferric","v":0.87,"e":0.143},{"c":"ferric","v":0.97,"e":0.08},{"c":"ferric","v":1.12,"e":0.042},{"c":"ferric","v":1.37,"e":0.021},{"c":"ferric","v":2.0,"e":0.006},{"c":"ferric","v":4.2,"e":0},
      {"c":"chromite","v":-3.9,"e":0},{"c":"chromite","v":-0.11,"e":0.004},{"c":"chromite","v":0.39,"e":0.017},{"c":"chromite","v":0.59,"e":0.04},{"c":"chromite","v":0.69,"e":0.072},{"c":"chromite","v":0.74,"e":0.1},{"c":"chromite","v":0.79,"e":0.138},{"c":"chromite","v":0.84,"e":0.18},{"c":"chromite","v":0.89,"e":0.2},{"c":"chromite","v":0.94,"e":0.18},{"c":"chromite","v":0.99,"e":0.138},{"c":"chromite","v":1.04,"e":0.1},{"c":"chromite","v":1.09,"e":0.072},{"c":"chromite","v":1.19,"e":0.04},{"c":"chromite","v":1.39,"e":0.017},{"c":"chromite","v":1.89,"e":0.004},{"c":"chromite","v":4.2,"e":0},
      {"c":"spinel","v":-3.9,"e":0},{"c":"spinel","v":-0.18,"e":0.003},{"c":"spinel","v":0.32,"e":0.013},{"c":"spinel","v":0.52,"e":0.03},{"c":"spinel","v":0.62,"e":0.054},{"c":"spinel","v":0.67,"e":0.075},{"c":"spinel","v":0.72,"e":0.104},{"c":"spinel","v":0.77,"e":0.135},{"c":"spinel","v":0.82,"e":0.15},{"c":"spinel","v":0.87,"e":0.135},{"c":"spinel","v":0.92,"e":0.104},{"c":"spinel","v":0.97,"e":0.075},{"c":"spinel","v":1.02,"e":0.054},{"c":"spinel","v":1.12,"e":0.03},{"c":"spinel","v":1.32,"e":0.013},{"c":"spinel","v":1.82,"e":0.003},{"c":"spinel","v":4.2,"e":0},
      {"c":"troilite","v":-3.9,"e":0.004},{"c":"troilite","v":-2.49,"e":0.006},{"c":"troilite","v":-2.19,"e":0.025},{"c":"troilite","v":-2.09,"e":0.048},{"c":"troilite","v":-2.04,"e":0.063},{"c":"troilite","v":-1.99,"e":0.07},{"c":"troilite","v":-1.94,"e":0.063},{"c":"troilite","v":-1.89,"e":0.048},{"c":"troilite","v":-1.79,"e":0.025},{"c":"troilite","v":-1.49,"e":0.006},{"c":"troilite","v":-0.38,"e":0.003},{"c":"troilite","v":-0.08,"e":0.013},{"c":"troilite","v":0.02,"e":0.024},{"c":"troilite","v":0.12,"e":0.035},{"c":"troilite","v":0.22,"e":0.024},{"c":"troilite","v":0.32,"e":0.013},{"c":"troilite","v":0.9,"e":0.002},{"c":"troilite","v":1.38,"e":0.007},{"c":"troilite","v":1.48,"e":0.013},{"c":"troilite","v":1.58,"e":0.024},{"c":"troilite","v":1.68,"e":0.035},{"c":"troilite","v":1.78,"e":0.024},{"c":"troilite","v":1.88,"e":0.013},{"c":"troilite","v":2.6,"e":0.003},{"c":"troilite","v":3.1,"e":0.006},{"c":"troilite","v":3.4,"e":0.025},{"c":"troilite","v":3.5,"e":0.048},{"c":"troilite","v":3.55,"e":0.063},{"c":"troilite","v":3.6,"e":0.07},{"c":"troilite","v":3.65,"e":0.063},{"c":"troilite","v":3.7,"e":0.048},{"c":"troilite","v":3.8,"e":0.025},{"c":"troilite","v":4.2,"e":0.006}
    ],
    "b_lab": [
      {"lab":"Troilite","v":-2.14,"e":-8.2},
      {"lab":"Olivine M1","v":-0.3,"e":-7.3},
      {"lab":"Olivine M2","v":-0.35,"e":-6.37},
      {"lab":"Clinopyroxene M1","v":0.0,"e":-5.49},
      {"lab":"Clinopyroxene M2","v":0.11,"e":-4.52},
      {"lab":"Ferrous compound","v":-0.84,"e":-3.63},
      {"lab":"Ferric compound","v":0.18,"e":-2.75},
      {"lab":"Chromite","v":0.8,"e":-1.83},
      {"lab":"Fe₁₋ₓMgₓCr₂O₄ (?)","v":0.72,"e":-0.98}
    ],
    "b_seg": [
      {"v":-2.14,"v2":-2.06,"e":-8.2},
      {"v":-1.99,"v2":3.6,"e":-8.2},
      {"v":3.68,"v2":3.8,"e":-8.2},
      {"v":-0.3,"v2":2.69,"e":-7.3},
      {"v":-0.35,"v2":2.58,"e":-6.37},
      {"v":0.0,"v2":2.58,"e":-5.49},
      {"v":0.11,"v2":2.19,"e":-4.52},
      {"v":-0.84,"v2":1.92,"e":-3.63},
      {"v":0.18,"v2":0.67,"e":-2.75},
      {"v":0.8,"v2":1.0,"e":-1.83},
      {"v":0.72,"v2":0.92,"e":-0.98}
    ],
    "b_tk": [
      {"v":-1.99,"e":-8.2,"e2":-8.04},{"v":0.12,"e":-8.2,"e2":-8.04},{"v":1.68,"e":-8.2,"e2":-8.04},{"v":3.6,"e":-8.2,"e2":-8.04},
      {"v":-0.3,"e":-7.3,"e2":-7.15},{"v":2.69,"e":-7.3,"e2":-7.15},
      {"v":-0.35,"e":-6.37,"e2":-6.22},{"v":2.58,"e":-6.37,"e2":-6.22},
      {"v":0.0,"e":-5.49,"e2":-5.34},{"v":2.58,"e":-5.49,"e2":-5.34},
      {"v":0.11,"e":-4.52,"e2":-4.37},{"v":2.19,"e":-4.52,"e2":-4.37},
      {"v":-0.84,"e":-3.63,"e2":-3.48},{"v":1.92,"e":-3.63,"e2":-3.48},
      {"v":0.18,"e":-2.75,"e2":-2.6},{"v":0.67,"e":-2.75,"e2":-2.6},
      {"v":0.89,"e":-1.83,"e2":-1.66},
      {"v":0.82,"e":-0.98,"e2":-0.81}
    ]
  },
  "hconcat": [
    {
      "width": 511,
      "height": 438,
      "title": {"text": "(a)", "orient": "bottom", "offset": 16, "font": "Noto Sans", "fontSize": 22, "fontWeight": 600, "color": "#111111"},
      "layer": [
        {
          "data": {"name": "a_comp"},
          "mark": {"type": "line", "color": "#8e8e8e", "strokeWidth": 1, "clip": true},
          "encoding": {
            "x": {
              "field": "v", "type": "quantitative",
              "scale": {"domain": [-10.2, 11.0], "nice": false, "zero": false},
              "axis": {
                "title": "VELOCITY,\u00a0 mm/s",
                "values": [-10, -8, -6, -4, -2, 0, 2, 4, 6, 8, 10],
                "labelExpr": "(datum.value < 0 ? '-' : '') + format(abs(datum.value), '.1f')",
                "tickSize": -4,
                "labelPadding": 5,
                "titlePadding": 6,
                "titleX": 247
              }
            },
            "y": {
              "field": "e", "type": "quantitative",
              "scale": {"domain": [-9.7, 13.0], "reverse": true, "nice": false, "zero": false},
              "axis": {
                "title": "E\u2009 F\u2009 F\u2009 E\u2009 C\u2009 T,\u2009\u00a0 %",
                "values": [0, 2, 4, 6, 8, 10, 12],
                "labelExpr": "format(datum.value, '.1f')",
                "domain": false,
                "ticks": false,
                "labelPadding": 4,
                "titlePadding": -3,
                "titleY": 298
              }
            },
            "detail": {"field": "c"}
          }
        },
        {
          "data": {"name": "a_res"},
          "mark": {"type": "line", "color": "#555555", "strokeWidth": 0.8, "clip": true},
          "encoding": {"x": {"field": "v", "type": "quantitative"}, "y": {"field": "e", "type": "quantitative"}}
        },
        {
          "data": {"name": "a_exp"},
          "mark": {"type": "line", "color": "#2b2b2b", "strokeWidth": 1.3, "clip": true},
          "encoding": {"x": {"field": "v", "type": "quantitative"}, "y": {"field": "e", "type": "quantitative"}}
        },
        {
          "data": {"name": "a_exp"},
          "mark": {"type": "point", "shape": "cross", "filled": true, "size": 9, "color": "#2b2b2b", "opacity": 1, "clip": true},
          "encoding": {"x": {"field": "v", "type": "quantitative"}, "y": {"field": "e", "type": "quantitative"}}
        },
        {
          "data": {"name": "a_seg"},
          "mark": {"type": "rule", "color": "#7a7a7a", "strokeWidth": 1},
          "encoding": {"x": {"field": "v", "type": "quantitative"}, "x2": {"field": "v2"}, "y": {"field": "e", "type": "quantitative"}}
        },
        {
          "data": {"name": "a_tk"},
          "mark": {"type": "rule", "color": "#7a7a7a", "strokeWidth": 1},
          "encoding": {"x": {"field": "v", "type": "quantitative"}, "y": {"field": "e", "type": "quantitative"}, "y2": {"field": "e2"}}
        },
        {
          "data": {"name": "a_lab"},
          "mark": {"type": "text", "align": "right", "baseline": "alphabetic", "dx": -4, "font": "Liberation Serif", "fontSize": 17, "fontWeight": "bold", "color": "#111111"},
          "encoding": {"x": {"field": "v", "type": "quantitative"}, "y": {"field": "e", "type": "quantitative"}, "text": {"field": "lab"}}
        },
        {
          "data": {"values": [{}]},
          "mark": {"type": "rule", "color": "#9a9a9a", "strokeWidth": 1},
          "encoding": {"x": {"datum": -10.2}, "y": {"datum": -0.45}, "y2": {"datum": 13.0}}
        }
      ]
    },
    {
      "width": 493,
      "height": 434,
      "title": {"text": "(b)", "orient": "bottom", "offset": 16, "font": "Noto Sans", "fontSize": 22, "fontWeight": 600, "color": "#111111"},
      "layer": [
        {
          "data": {"name": "b_comp"},
          "mark": {"type": "line", "color": "#8e8e8e", "strokeWidth": 1, "clip": true},
          "encoding": {
            "x": {
              "field": "v", "type": "quantitative",
              "scale": {"domain": [-3.9, 4.2], "nice": false, "zero": false},
              "axis": {
                "title": "VELOCITY,\u00a0 mm/s",
                "values": [-3, -2, -1, 0, 1, 2, 3, 4],
                "labelExpr": "(datum.value < 0 ? '-' : '') + format(abs(datum.value), '.1f')",
                "tickSize": -4,
                "labelPadding": 5,
                "titlePadding": 6
              }
            },
            "y": {
              "field": "e", "type": "quantitative",
              "scale": {"domain": [-9.0, 12.25], "reverse": true, "nice": false, "zero": false},
              "axis": {
                "title": "E\u2009 F\u2009 F\u2009 E\u2009 C\u2009 T,\u2009\u00a0 %",
                "values": [0, 2, 4, 6, 8, 10, 12],
                "labelExpr": "format(datum.value, '.1f')",
                "domain": false,
                "ticks": false,
                "labelPadding": 4,
                "titlePadding": -3,
                "titleY": 298
              }
            },
            "detail": {"field": "c"}
          }
        },
        {
          "data": {"name": "b_res"},
          "mark": {"type": "line", "color": "#555555", "strokeWidth": 0.8, "clip": true},
          "encoding": {"x": {"field": "v", "type": "quantitative"}, "y": {"field": "e", "type": "quantitative"}}
        },
        {
          "data": {"name": "b_exp"},
          "mark": {"type": "line", "color": "#2b2b2b", "strokeWidth": 1.3, "clip": true},
          "encoding": {"x": {"field": "v", "type": "quantitative"}, "y": {"field": "e", "type": "quantitative"}}
        },
        {
          "data": {"name": "b_exp"},
          "mark": {"type": "point", "shape": "cross", "filled": true, "size": 9, "color": "#2b2b2b", "opacity": 1, "clip": true},
          "encoding": {"x": {"field": "v", "type": "quantitative"}, "y": {"field": "e", "type": "quantitative"}}
        },
        {
          "data": {"name": "b_seg"},
          "mark": {"type": "rule", "color": "#7a7a7a", "strokeWidth": 1},
          "encoding": {"x": {"field": "v", "type": "quantitative"}, "x2": {"field": "v2"}, "y": {"field": "e", "type": "quantitative"}}
        },
        {
          "data": {"name": "b_tk"},
          "mark": {"type": "rule", "color": "#7a7a7a", "strokeWidth": 1},
          "encoding": {"x": {"field": "v", "type": "quantitative"}, "y": {"field": "e", "type": "quantitative"}, "y2": {"field": "e2"}}
        },
        {
          "data": {"name": "b_lab"},
          "mark": {"type": "text", "align": "right", "baseline": "alphabetic", "dx": -4, "font": "Liberation Serif, DejaVu Serif", "fontSize": 17, "fontWeight": "bold", "color": "#111111"},
          "encoding": {"x": {"field": "v", "type": "quantitative"}, "y": {"field": "e", "type": "quantitative"}, "text": {"field": "lab"}}
        },
        {
          "data": {"values": [{}]},
          "mark": {"type": "rule", "color": "#9a9a9a", "strokeWidth": 1},
          "encoding": {"x": {"datum": -3.9}, "y": {"datum": -0.4}, "y2": {"datum": 12.25}}
        }
      ]
    }
  ]
}
